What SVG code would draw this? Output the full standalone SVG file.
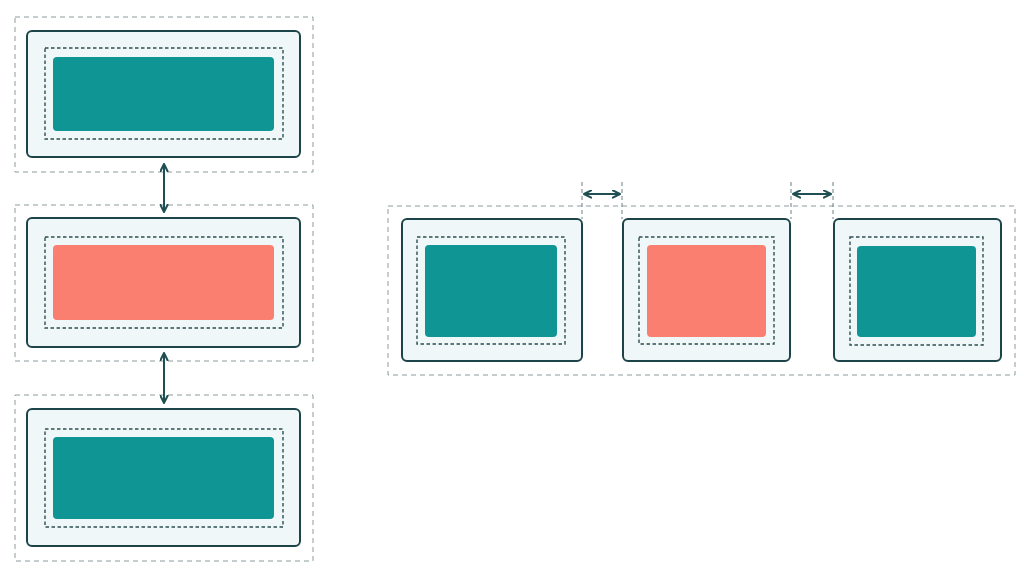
<svg xmlns="http://www.w3.org/2000/svg" width="1024" height="576" viewBox="0 0 1024 576">
<style>
.margin{fill:none;stroke:#8d9c9f;stroke-width:1;stroke-dasharray:5 4}
.border{fill:#eff7f8;stroke:#1d4549;stroke-width:2}
.pad{fill:none;stroke:#2f4f53;stroke-width:1.4;stroke-dasharray:3.5 2.5}
.teal{fill:#109595}
.coral{fill:#fb7f70}
.guide{fill:none;stroke:#6a8083;stroke-width:1;stroke-dasharray:4 3}
.conn{fill:none;stroke:#1f4f52;stroke-width:2;marker-start:url(#ah);marker-end:url(#ah)}
</style>
<defs>
<marker id="ah" viewBox="0 0 10 10" refX="9" refY="5" markerWidth="4.5" markerHeight="4.5" orient="auto-start-reverse" markerUnits="strokeWidth">
<path d="M1,1 L9,5 L1,9" fill="none" stroke="#1f4f52" stroke-width="2.2" stroke-linecap="round" stroke-linejoin="round"/>
</marker>
</defs>
<rect width="1024" height="576" fill="#ffffff"/>

<g id="left-box-1">
<rect class="margin" x="15" y="17" width="298" height="155"/>
<rect class="border" x="27" y="31" width="273" height="126" rx="5"/>
<rect class="pad" x="45" y="48" width="238" height="91"/>
<rect class="teal" x="53" y="57" width="221" height="74" rx="4"/>
</g>
<g id="left-box-2">
<rect class="margin" x="15" y="205" width="298" height="156"/>
<rect class="border" x="27" y="218" width="273" height="129" rx="5"/>
<rect class="pad" x="45" y="237" width="238" height="91"/>
<rect class="coral" x="53" y="245" width="221" height="75" rx="4"/>
</g>
<g id="left-box-3">
<rect class="margin" x="15" y="395" width="298" height="166"/>
<rect class="border" x="27" y="409" width="273" height="137" rx="5"/>
<rect class="pad" x="45" y="429" width="238" height="98"/>
<rect class="teal" x="53" y="437" width="221" height="82" rx="4"/>
</g>

<g id="row-container">
<rect class="margin" x="388" y="206" width="627" height="169"/>
</g>
<g id="row-box-a">
<rect class="border" x="402" y="219" width="180" height="142" rx="5"/>
<rect class="pad" x="417" y="237" width="148" height="107"/>
<rect class="teal" x="425" y="245" width="132" height="92" rx="4"/>
</g>
<g id="row-box-b">
<rect class="border" x="623" y="219" width="167" height="142" rx="5"/>
<rect class="pad" x="639" y="237" width="135" height="107"/>
<rect class="coral" x="647" y="245" width="119" height="92" rx="4"/>
</g>
<g id="row-box-c">
<rect class="border" x="834" y="219" width="167" height="142" rx="5"/>
<rect class="pad" x="850" y="237" width="133" height="108"/>
<rect class="teal" x="857" y="246" width="119" height="91" rx="4"/>
</g>

<g id="connectors">
<line class="guide" x1="582" y1="182" x2="582" y2="219"/>
<line class="guide" x1="622" y1="182" x2="622" y2="219"/>
<line class="guide" x1="791" y1="182" x2="791" y2="219"/>
<line class="guide" x1="833" y1="182" x2="833" y2="219"/>
<line class="conn" x1="164" y1="164" x2="164" y2="212"/>
<line class="conn" x1="164" y1="353" x2="164" y2="403"/>
<line class="conn" x1="584" y1="194" x2="620" y2="194"/>
<line class="conn" x1="793" y1="194" x2="831" y2="194"/>
</g>
</svg>
